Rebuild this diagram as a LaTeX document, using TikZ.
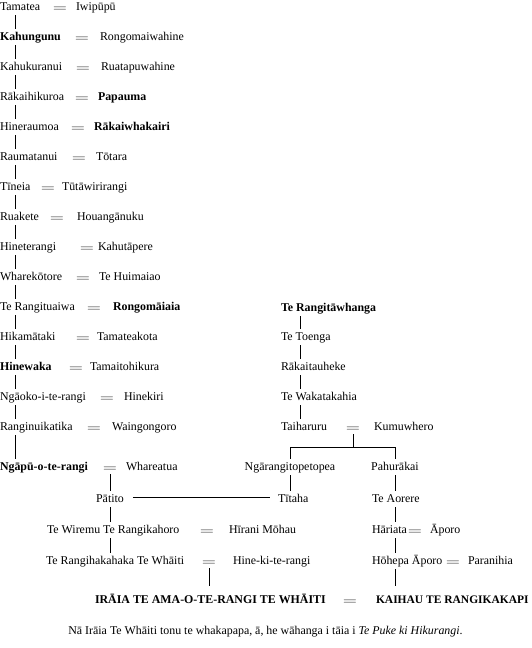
\documentclass[tikz,border=0pt]{standalone}
\usepackage{fontspec}
\setmainfont{Liberation Serif}
\usepackage{tikz}
\usetikzlibrary{positioning,calc}

\begin{document}
\begin{tikzpicture}[
  x=1pt, y=-1pt,
  every node/.style={font=\fontsize{11.9pt}{14pt}\selectfont},
  person/.style={inner sep=0pt, text height=9pt, text depth=2.5pt, outer xsep=0pt, outer ysep=2.5pt},
  heir/.style={person, font=\fontsize{11.9pt}{14pt}\selectfont\bfseries, outer ysep=8pt},
  wed/.style={inner sep=0pt, text height=5pt, text depth=0pt, outer xsep=0pt, outer ysep=3pt},
  tie/.style={draw=black, line width=0.8pt},
  bond/.style={draw=black, line width=0.7pt, double=white, double distance=1.6pt}
]
  \useasboundingbox (0,0) rectangle (531,648);
  \coordinate (lx) at (15,0);
  \coordinate (rx) at (300,0);
  \coordinate (cx) at (110,0);
  \newcommand{\eqs}{\scalebox{1.55}[1]{$=$}}
  \foreach \i/\y/\who/\mx/\sx/\spouse in {
    1/10/Tamatea/60/76/Iwipūpū,
    2/40/{\textbf{Kahungunu}}/82/100/Rongomaiwahine,
    3/70/Kahukuranui/83/101/Ruatapuwahine,
    4/100/Rākaihikuroa/82/98/{\textbf{Papauma}},
    5/130/Hineraumoa/78/94/{\textbf{Rākaiwhakairi}},
    6/160/Raumatanui/79/96/Tōtara,
    7/190/Tīneia/48/62/Tūtāwirirangi,
    8/220/Ruakete/57/77/Houangānuku,
    9/250/Hineterangi/87/98/Kahutāpere,
    10/280/Wharekōtore/83/99/Te Huimaiao,
    11/310/Te Rangituaiwa/94/113/{\textbf{Rongomāiaia}},
    12/340/Hikamātaki/83/97/Tamateakota,
    13/370/{\textbf{Hinewaka}}/76/90/Tamaitohikura,
    14/400/Ngāoko-i-te-rangi/107/124/Hinekiri,
    15/430/Ranginuikatika/94/112/Waingongoro,
    16/470/{\textbf{Ngāpū-o-te-rangi}}/110/126/Whareatua
  } {
    \node[person, anchor=base west] (p\i) at (0,\y) {\who};
    \node[wed, anchor=base] (m\i) at (\mx,\y+1) {\eqs};
    \node[person, anchor=base west] (s\i) at (\sx,\y) {\spouse};
  }
  \foreach \i [evaluate=\i as \j using int(\i+1)] in {1,...,15} {
    \draw[tie] (p\i.south -| lx) -- (p\j.north -| lx);
  }

  \node[person, anchor=base] (patito) at (110,502) {Pātito};
  \node[person, anchor=base west] (wiremu) at (47,533) {Te Wiremu Te Rangikahoro};
  \node[wed, anchor=base] (mwiremu) at (207,534) {\eqs};
  \node[person, anchor=base west] (hirani) at (229,533) {Hīrani Mōhau};
  \node[person, anchor=base west] (haka) at (46,564) {Te Rangihakahaka Te Whāiti};
  \node[wed, anchor=base] (mhaka) at (209,565) {\eqs};
  \node[person, anchor=base west] (hineki) at (233,564) {Hine-ki-te-rangi};
  \node[heir, anchor=base west] (iraia) at (95,603) {IRĀIA TE AMA-O-TE-RANGI TE WHĀITI};
  \node[wed, anchor=base] (miraia) at (350,604) {\eqs};
  \node[heir, anchor=base west, font=\fontsize{11.5pt}{14pt}\selectfont\bfseries] (kaihau) at (376,603) {KAIHAU TE RANGIKAKAPI};

  \node[person, anchor=base west] (rangi) at (281,311) {\textbf{Te Rangitāwhanga}};
  \node[person, anchor=base west] (toenga) at (281,340) {Te Toenga};
  \node[person, anchor=base west] (tauheke) at (281,370) {Rākaitauheke};
  \node[person, anchor=base west] (waka) at (281,400) {Te Wakatakahia};
  \node[person, anchor=base west] (tai) at (281,430) {Taiharuru};
  \node[wed, anchor=base] (mtai) at (353,431) {\eqs};
  \node[person, anchor=base west] (kumu) at (374,430) {Kumuwhero};
  \coordinate (fork) at (353,447);
  \node[person, anchor=base] (ngar) at (290,470) {Ngārangitopetopea};
  \node[person, anchor=base] (paho) at (395,470) {Pahurākai};
  \node[person, anchor=base west] (tita) at (278,502) {Tītaha};
  \node[person, anchor=base west] (aorere) at (372,502) {Te Aorere};
  \node[person, anchor=base west] (hari) at (372,533) {Hāriata};
  \node[wed, anchor=base] (mhari) at (415,534) {\eqs};
  \node[person, anchor=base west] (aporo) at (430,533) {Āporo};
  \node[person, anchor=base west] (hohepa) at (372,564) {Hōhepa Āporo};
  \node[wed, anchor=base] (mhohepa) at (453,565) {\eqs};
  \node[person, anchor=base west] (parani) at (468,564) {Paranihia};

  \draw[tie] (rangi.south -| rx) -- (toenga.north -| rx);
  \draw[tie] (toenga.south -| rx) -- (tauheke.north -| rx);
  \draw[tie] (tauheke.south -| rx) -- (waka.north -| rx);
  \draw[tie] (waka.south -| rx) -- (tai.north -| rx);
  \draw[tie] (mtai.south) -- (fork);
  \draw[tie] (ngar.north) -- (ngar.north |- fork) -- (fork -| paho.north) -- (paho.north);
  \draw[tie] (ngar.south) -- (tita.north -| ngar.south);
  \draw[tie] (paho.south) -- (aorere.north -| paho.south);
  \draw[tie] (aorere.south -| paho) -- (hari.north -| paho);
  \draw[tie] (hari.south -| paho) -- (hohepa.north -| paho);
  \draw[tie] (hohepa.south -| paho) -- (kaihau.north -| paho);

  \draw[tie] (m16.south) -- (patito.north -| m16.south);
  \draw[bond] ([xshift=9pt]patito.east) -- ([xshift=-8pt]tita.west);
  \draw[tie] (patito.south -| cx) -- (wiremu.north -| cx);
  \draw[tie] (wiremu.south -| cx) -- (haka.north -| cx);
  \draw[tie] (mhaka.south) -- (iraia.north -| mhaka.south);

  \node[anchor=base] (note) at (265.5,634) {Nā Irāia Te Whāiti tonu te whakapapa, ā, he wāhanga i tāia i \textit{Te Puke ki Hikurangi}.};
\end{tikzpicture}
\end{document}
